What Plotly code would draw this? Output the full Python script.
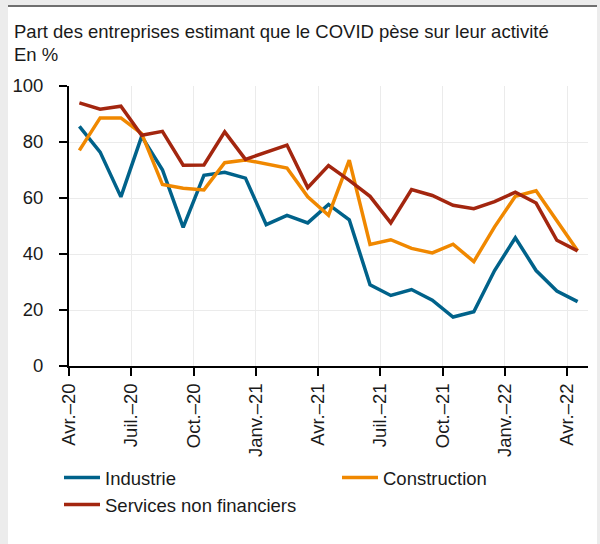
import plotly.graph_objects as go

months = ["Avr.–20", "Mai–20", "Juin–20", "Juil.–20", "Août–20", "Sept.–20", "Oct.–20", "Nov.–20", "Déc.–20",
          "Janv.–21", "Févr.–21", "Mars–21", "Avr.–21", "Mai–21", "Juin–21", "Juil.–21", "Août–21", "Sept.–21",
          "Oct.–21", "Nov.–21", "Déc.–21", "Janv.–22", "Févr.–22", "Mars–22", "Avr.–22"]

industrie = [85.6, 76.4, 60.4, 82.0, 70.1, 49.5, 68.1, 69.2, 67.1, 50.5, 53.8, 51.1, 57.7, 52.2, 29.0, 25.2,
             27.3, 23.5, 17.5, 19.4, 34.1, 45.8, 34.1, 26.8, 23.0]
construction = [77.0, 88.6, 88.6, 83.0, 64.8, 63.5, 62.9, 72.6, 73.6, 72.3, 70.7, 60.4, 53.8, 73.5, 43.4, 45.1,
                42.0, 40.4, 43.5, 37.3, 49.7, 60.6, 62.6, 51.9, 41.2]
services = [94.0, 91.7, 92.8, 82.4, 83.8, 71.7, 71.8, 83.6, 73.8, 76.5, 78.9, 63.7, 71.6, 66.3, 60.6, 51.1,
            63.0, 60.9, 57.4, 56.2, 58.7, 62.1, 58.2, 44.9, 41.1]

tick_labels = ["Avr.–20", "Juil.–20", "Oct.–20", "Janv.–21", "Avr.–21", "Juil.–21", "Oct.–21", "Janv.–22", "Avr.–22"]
tick_pos = [0, 3, 6, 9, 12, 15, 18, 21, 24]

title_line1 = "Part des entreprises estimant que le COVID pèse sur leur activité"
title_line2 = "En %"

x_pos = [i + 0.5 for i in range(len(months))]

FONT = "Liberation Sans"
FS = 18.5
TXT = "#1a1a1a"
fig = go.Figure()
series = [("Industrie", industrie, "#00628a"), ("Construction", construction, "#f08800"),
          ("Services non financiers", services, "#a3260f")]
for name, vals, col in series:
    fig.add_trace(go.Scatter(x=x_pos, y=vals, mode="lines", name=name,
                             line=dict(color=col, width=3.5), customdata=months,
                             hovertemplate="%{customdata}: %{y}<extra>" + name + "</extra>"))

# plot area in pixels: x 69..588, y 86..366
L, R, T, B = 69, 12, 86, 178
W, H = 600 - L - R, 544 - T - B
def px(x):
    return (x - L) / W
def py(y):
    return (544 - B - y) / H

shapes = [
    dict(type="rect", xref="paper", yref="paper", x0=px(8), x1=px(597), y0=py(544), y1=py(5),
         fillcolor="white", line=dict(width=0), layer="below"),
    dict(type="rect", xref="paper", yref="paper", x0=px(8), x1=px(597), y0=py(7), y1=py(5),
         fillcolor="#6f6f6f", line=dict(width=0), layer="below"),
]

fig.update_layout(
    width=600, height=544,
    margin=dict(l=L, r=R, t=T, b=B, autoexpand=False),
    paper_bgcolor="#ececec", plot_bgcolor="white",
    font=dict(family=FONT, size=FS, color=TXT),
    shapes=shapes,
    annotations=[
        dict(text=title_line1, xref="paper", yref="paper", x=px(12), y=py(31), xanchor="left",
             yanchor="middle", showarrow=False, font=dict(size=FS, family=FONT, color=TXT)),
        dict(text=title_line2, xref="paper", yref="paper", x=px(12), y=py(55), xanchor="left",
             yanchor="middle", showarrow=False, font=dict(size=FS, family=FONT, color=TXT)),
    ],
    xaxis=dict(range=[0, 25], tickvals=tick_pos, ticktext=tick_labels, tickangle=-90,
               showline=True, linecolor="black", linewidth=2, ticks="outside", ticklen=8,
               tickwidth=2, tickcolor="black", showgrid=True, gridcolor="#ebebeb", gridwidth=1,
               zeroline=False, fixedrange=True),
    yaxis=dict(range=[0, 100], dtick=20, showline=True, linecolor="black", linewidth=2,
               ticks="outside", ticklen=8, tickwidth=2, tickcolor="black", showgrid=True,
               gridcolor="#ebebeb", gridwidth=1, zeroline=False, fixedrange=True,
               ticklabelstandoff=12),
    showlegend=True,
    legend=dict(orientation="h", x=px(59), y=py(459), xanchor="left", yanchor="top",
                entrywidth=227, bgcolor="rgba(0,0,0,0)", font=dict(size=FS, family=FONT, color=TXT),
                traceorder="normal", itemwidth=36),
)

fig.write_html("out.html", config={"displayModeBar": False},
               post_script="document.body.style.margin='0';")
